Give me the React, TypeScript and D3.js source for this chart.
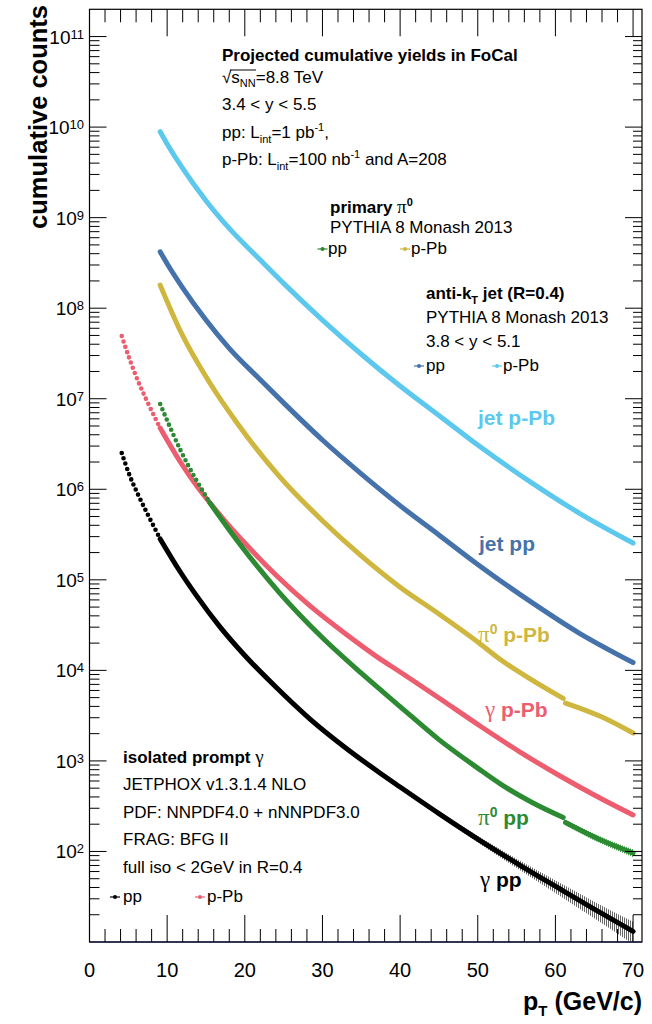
import * as d3 from 'd3';

// ---- data (cumulative counts above pT) ----
const jetPt = [9.1, 10, 12, 15, 18, 22, 25, 30, 35, 40, 45, 50, 57, 63, 70];
const jetPPbCounts = [8.9e9, 6.5e9, 3.5e9, 1.54e9, 7.6e8, 3.4e8, 1.88e8, 7.4e7, 3.1e7, 1.38e7, 6.53e6, 3.08e6, 1.17e6, 5.5e5, 2.55e5];
const jetPpCounts = [4.2e8, 3.1e8, 1.68e8, 7.4e7, 3.6e7, 1.62e7, 9.0e6, 3.5e6, 1.48e6, 6.6e5, 3.13e5, 1.48e5, 5.6e4, 2.6e4, 1.22e4];

const pi0Pt = [9.1, 11.7, 15.5, 19, 24.5, 30, 35, 40, 45, 50, 53, 57, 61, 61.3, 66, 70];
const pi0PPbCounts = [1.8e8, 5.6e7, 1.49e7, 5.4e6, 1.37e6, 4.5e5, 1.84e5, 8.3e4, 4.2e4, 2.06e4, 1.3e4, 7.8e3, 4.9e3, 4.35e3, 3.05e3, 2.03e3];
const pi0PpCounts = [8.75e6, 2.72e6, 7.07e5, 2.72e5, 7.14e4, 2.29e4, 9.3e3, 3.98e3, 1.72e3, 832, 550, 347, 237, 209, 132, 96];

const gammaPt = [4.15, 5.2, 6.3, 7.4, 9.1, 11.7, 13.8, 16.8, 20, 24, 28.4, 33, 37.4, 40, 45, 50.3, 55.4, 60.6, 65, 70];
const gammaPPbCounts = [4.93e7, 2.68e7, 1.53e7, 9.44e6, 4.75e6, 2.0e6, 1.09e6, 5.2e5, 2.55e5, 1.13e5, 5.15e4, 2.52e4, 1.34e4, 9.6e3, 4.95e3, 2.43e3, 1.26e3, 682, 421, 253];
const gammaPpCounts = [2.52e6, 1.4e6, 8.55e5, 5.48e5, 2.83e5, 1.22e5, 6.64e4, 3.02e4, 1.46e4, 6.55e3, 2.9e3, 1.39e3, 736, 515, 262, 132, 70.8, 38.5, 23.1, 13.1];

const xTickValues = [0, 10, 20, 30, 40, 50, 60, 70];
const yLabelExponents = [2, 3, 4, 5, 6, 7, 8, 9, 10, 11];

const SANS = "'Liberation Sans', Arial, Helvetica, sans-serif";
const SERIF = "'Liberation Serif', 'Times New Roman', serif";

const colors = {
  jetPPb: '#5cc8ee',
  jetPp: '#4672ab',
  pi0PPb: '#cfb63e',
  pi0Pp: '#2c8a32',
  gammaPPb: '#ec5d70',
  gammaPp: '#000000',
};

// solidFrom: below this pT the markers are far enough apart to show as dots
type Series = { key: string; pt: number[]; counts: number[]; color: string; hatch?: string; solidFrom?: number };

const series: Series[] = [
  { key: 'gammaPp', pt: gammaPt, counts: gammaPpCounts, color: colors.gammaPp, hatch: 'hatchK', solidFrom: 9.1 },
  { key: 'gammaPPb', pt: gammaPt, counts: gammaPPbCounts, color: colors.gammaPPb, solidFrom: 9.1 },
  { key: 'pi0Pp', pt: pi0Pt, counts: pi0PpCounts, color: colors.pi0Pp, hatch: 'hatchG', solidFrom: 15.5 },
  { key: 'pi0PPb', pt: pi0Pt, counts: pi0PPbCounts, color: colors.pi0PPb },
  { key: 'jetPp', pt: jetPt, counts: jetPpCounts, color: colors.jetPp },
  { key: 'jetPPb', pt: jetPt, counts: jetPPbCounts, color: colors.jetPPb },
];

// split a series where two readings sit almost on the same pT (a visible step)
function segments(pt: number[], counts: number[]) {
  const out: [number, number][][] = [];
  let cur: [number, number][] = [];
  pt.forEach((p, i) => {
    if (i > 0 && p - pt[i - 1] < 0.5) {
      out.push(cur);
      cur = [];
    }
    cur.push([p, counts[i]]);
  });
  out.push(cur);
  return out;
}

function LegendMark({ cx, cy, color }: { cx: number; cy: number; color: string }) {
  return (
    <g>
      <line x1={cx - 5} x2={cx + 5} y1={cy} y2={cy} stroke={color} strokeWidth={1.2} />
      <circle cx={cx} cy={cy} r={2} fill={color} />
    </g>
  );
}

export default function App() {
  const x = d3.scaleLinear().domain([0, 71.15]).range([89.5, 642]);
  const y = d3.scaleLog().domain([10, 2e11]).range([942, 9.3]);
  const [xL, xR] = x.range();
  const [yB, yT] = y.range();

  const line = d3
    .line<[number, number]>()
    .x((d) => x(d[0]))
    .y((d) => y(d[1]))
    .curve(d3.curveMonotoneX);

  // poisson error band
  const band = d3
    .area<[number, number]>()
    .x((d) => x(d[0]))
    .y0((d) => y(Math.max(d[1] - Math.sqrt(d[1]), 1)))
    .y1((d) => y(d[1] + Math.sqrt(d[1])))
    .curve(d3.curveMonotoneX);

  const xMinor = d3.range(0, 71, 2).filter((v) => v % 10 !== 0);
  const yMinor: number[] = [];
  for (let e = 1; e <= 11; e++) {
    for (let k = 2; k <= 9; k++) {
      const v = k * Math.pow(10, e);
      if (v < 2e11) yMinor.push(v);
    }
  }
  const yMajor = d3.range(2, 12).map((e) => Math.pow(10, e));

  const fs = 17;
  const sub = 11;

  return (
    <svg
      width={652}
      height={1024}
      style={{ position: 'absolute', left: 0, top: 0, background: '#fff' }}
      fontFamily={SANS}
    >
      <defs>
        <clipPath id="frame">
          <rect x={xL} y={yT} width={xR - xL} height={yB - yT} />
        </clipPath>
        <pattern id="hatchK" width={2} height={4} patternUnits="userSpaceOnUse">
          <rect x={0} y={0} width={1} height={4} fill="#000" opacity={0.6} />
        </pattern>
        <pattern id="hatchG" width={2} height={4} patternUnits="userSpaceOnUse">
          <rect x={0} y={0} width={1} height={4} fill={colors.pi0Pp} opacity={0.8} />
        </pattern>
      </defs>

      {/* curves */}
      <g clipPath="url(#frame)">
        {series.map((s) => (
          <g key={s.key}>
            {segments(s.pt, s.counts).map((pts, j) => {
              const cut = s.solidFrom ?? -1;
              const dotted = pts.filter((d) => d[0] <= cut);
              const solid = pts.filter((d) => d[0] >= cut);
              return (
                <g key={j}>
                  {s.hatch && <path d={band(pts) || ''} fill={`url(#${s.hatch})`} />}
                  {dotted.length > 1 && (
                    <path
                      d={line(dotted) || ''}
                      fill="none"
                      stroke={s.color}
                      strokeWidth={4.6}
                      strokeLinecap="round"
                      strokeDasharray="0 5.6"
                    />
                  )}
                  <path
                    d={line(solid) || ''}
                    fill="none"
                    stroke={s.color}
                    strokeWidth={5}
                    strokeLinecap="round"
                    strokeLinejoin="round"
                  />
                </g>
              );
            })}
          </g>
        ))}
      </g>

      {/* frame */}
      <rect x={xL} y={yT} width={xR - xL} height={yB - yT} fill="none" stroke="#000" strokeWidth={1.2} />
      <line x1={xL} x2={xR} y1={yB} y2={yB} stroke="#23234f" strokeWidth={1.6} />

      {/* x ticks bottom and top */}
      {xTickValues.map((v) => (
        <g key={`xM${v}`}>
          <line x1={x(v)} x2={x(v)} y1={yB} y2={yB - 27} stroke="#000" />
          <line x1={x(v)} x2={x(v)} y1={yT} y2={yT + 27} stroke="#000" />
          <text x={x(v)} y={977} fontSize={20} textAnchor="middle">{v}</text>
        </g>
      ))}
      {xMinor.map((v) => (
        <g key={`xm${v}`}>
          <line x1={x(v)} x2={x(v)} y1={yB} y2={yB - 13} stroke="#000" />
          <line x1={x(v)} x2={x(v)} y1={yT} y2={yT + 13} stroke="#000" />
        </g>
      ))}

      {/* y ticks left and right */}
      {yMajor.map((v) => (
        <g key={`yM${v}`}>
          <line x1={xL} x2={xL + 17} y1={y(v)} y2={y(v)} stroke="#000" />
          <line x1={xR} x2={xR - 17} y1={y(v)} y2={y(v)} stroke="#000" />
        </g>
      ))}
      {yMinor.map((v) => (
        <g key={`ym${v}`}>
          <line x1={xL} x2={xL + 10} y1={y(v)} y2={y(v)} stroke="#000" />
          <line x1={xR} x2={xR - 9} y1={y(v)} y2={y(v)} stroke="#000" />
        </g>
      ))}
      {yLabelExponents.map((e) => (
        <text key={`yl${e}`} x={84} y={y(Math.pow(10, e)) + 7} fontSize={19} textAnchor="end">
          10
          <tspan fontSize={13} dy={-5}>{e}</tspan>
        </text>
      ))}

      {/* axis titles */}
      <text transform="translate(47,5) rotate(-90)" textAnchor="end" fontSize={25.5} fontWeight="bold">
        cumulative counts
      </text>
      <text x={642} y={1010} textAnchor="end" fontSize={25} fontWeight="bold">
        p<tspan fontSize={15} dy={6}>T</tspan>
        <tspan dy={-6}> (GeV/c)</tspan>
      </text>

      {/* header block */}
      <g fontSize={fs}>
        <text x={222} y={61} fontWeight="bold">Projected cumulative yields in FoCal</text>
        <text x={222} y={83}>
          √s<tspan fontSize={sub} dy={4}>NN</tspan>
          <tspan dy={-4}>=8.8 TeV</tspan>
        </text>
        <line x1={230} x2={256} y1={70} y2={70} stroke="#000" strokeWidth={1} />
        <text x={222} y={110}>3.4 &lt; y &lt; 5.5</text>
        <text x={222} y={138}>
          pp: L<tspan fontSize={sub} dy={5}>int</tspan>
          <tspan dy={-5}>=1 pb</tspan>
          <tspan fontSize={sub} dy={-7}>-1</tspan>
          <tspan dy={7}>,</tspan>
        </text>
        <text x={222} y={165}>
          p-Pb: L<tspan fontSize={sub} dy={5}>int</tspan>
          <tspan dy={-5}>=100 nb</tspan>
          <tspan fontSize={sub} dy={-7}>-1</tspan>
          <tspan dy={7}> and A=208</tspan>
        </text>
      </g>

      {/* pi0 legend */}
      <g fontSize={fs}>
        <text x={330} y={213}>
          <tspan fontWeight="bold">primary </tspan>
          <tspan fontFamily={SERIF} fontSize={19}>π</tspan>
          <tspan fontWeight="bold" fontSize={sub} dy={-7}>0</tspan>
        </text>
        <text x={330} y={233}>PYTHIA 8 Monash 2013</text>
        <LegendMark cx={322.5} cy={249} color={colors.pi0Pp} />
        <text x={328} y={254}>pp</text>
        <LegendMark cx={405} cy={249} color={colors.pi0PPb} />
        <text x={411} y={254}>p-Pb</text>
      </g>

      {/* jet legend */}
      <g fontSize={fs}>
        <text x={426} y={299} fontWeight="bold">
          anti-k<tspan fontSize={sub} dy={5}>T</tspan>
          <tspan dy={-5}> jet (R=0.4)</tspan>
        </text>
        <text x={426} y={323}>PYTHIA 8 Monash 2013</text>
        <text x={426} y={347}>3.8 &lt; y &lt; 5.1</text>
        <LegendMark cx={419} cy={366} color={colors.jetPp} />
        <text x={426} y={371}>pp</text>
        <LegendMark cx={497} cy={366} color={colors.jetPPb} />
        <text x={503} y={371}>p-Pb</text>
      </g>

      {/* photon legend */}
      <g fontSize={fs}>
        <text x={123} y={763}>
          <tspan fontWeight="bold">isolated prompt </tspan>
          <tspan fontFamily={SERIF} fontSize={19}>γ</tspan>
        </text>
        <text x={123} y={790}>JETPHOX v1.3.1.4 NLO</text>
        <text x={123} y={818}>PDF: NNPDF4.0 + nNNPDF3.0</text>
        <text x={123} y={845}>FRAG: BFG II</text>
        <text x={123} y={873}>full iso &lt; 2GeV in R=0.4</text>
        <LegendMark cx={115} cy={897} color={colors.gammaPp} />
        <text x={123} y={902}>pp</text>
        <LegendMark cx={200} cy={897} color={colors.gammaPPb} />
        <text x={207} y={902}>p-Pb</text>
      </g>

      {/* curve labels */}
      <g fontSize={21} fontWeight="bold">
        <text x={478} y={425} fill={colors.jetPPb}>jet p-Pb</text>
        <text x={479} y={551} fill={colors.jetPp}>jet pp</text>
        <text x={478} y={642} fill={colors.pi0PPb}>
          <tspan fontFamily={SERIF} fontWeight="normal" fontSize={23}>π</tspan>
          <tspan fontSize={14} dy={-8}>0</tspan>
          <tspan dy={8}> p-Pb</tspan>
        </text>
        <text x={485} y={717} fill={colors.gammaPPb}>
          <tspan fontFamily={SERIF} fontWeight="normal" fontSize={23}>γ</tspan>
          <tspan> p-Pb</tspan>
        </text>
        <text x={478} y={825} fill={colors.pi0Pp}>
          <tspan fontFamily={SERIF} fontWeight="normal" fontSize={23}>π</tspan>
          <tspan fontSize={14} dy={-8}>0</tspan>
          <tspan dy={8}> pp</tspan>
        </text>
        <text x={480} y={887} fill={colors.gammaPp}>
          <tspan fontFamily={SERIF} fontWeight="normal" fontSize={23}>γ</tspan>
          <tspan> pp</tspan>
        </text>
      </g>
    </svg>
  );
}
